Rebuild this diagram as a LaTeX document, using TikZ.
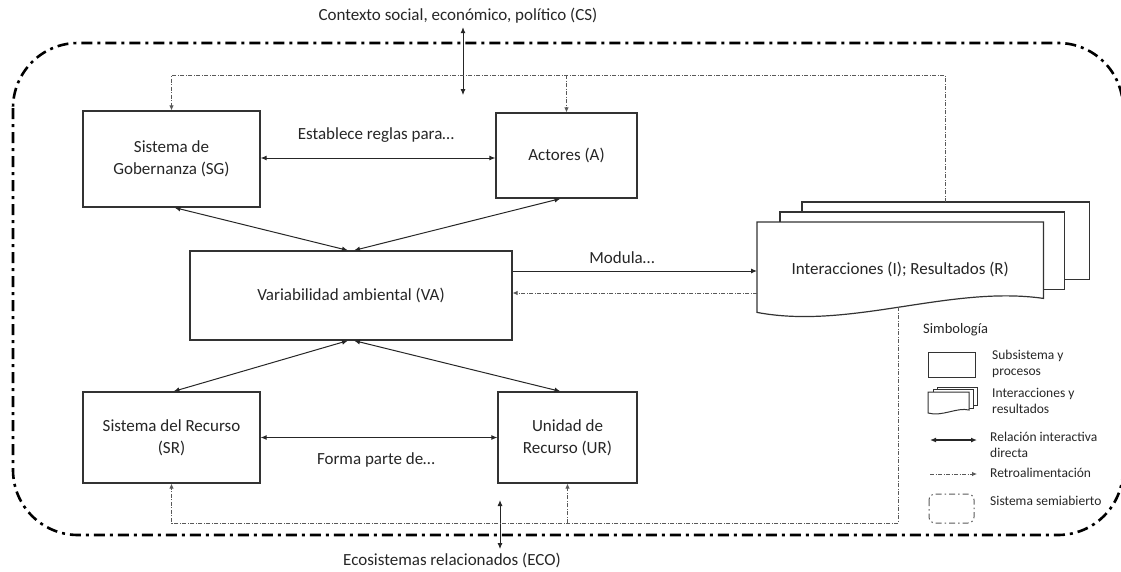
\documentclass[tikz,border=0pt]{standalone}
\usepackage{fontspec}
\setmainfont{Carlito}
\usetikzlibrary{arrows.meta,calc}
\begin{document}
\begin{tikzpicture}[x=1pt,y=-1pt,
  font=\fontsize{17}{22}\selectfont, text=black!85,
  box/.style={draw=black!80, line width=1.2pt, fill=white, align=center, inner sep=2pt},
  tip/.tip={Latex[length=6pt,width=5pt]},
  dbl/.style={tip-tip, line width=1pt, draw=black!85},
  arr/.style={-tip, line width=1pt, draw=black!85},
  fb/.style={draw=black!65, line width=0.9pt, dash pattern=on 4pt off 1.5pt on 1pt off 1.5pt},
  fbarr/.style={fb, -{Latex[length=5pt,width=4.5pt]}},
  outerframe/.style={draw=black, line width=2.6pt, dash pattern=on 11pt off 5pt on 3pt off 5pt},
  page/.style={draw=black!80, line width=1.2pt, fill=white},
  lg/.style={font=\fontsize{13.5}{16}\selectfont, align=left, anchor=west, inner sep=0pt}
]
\useasboundingbox (0,0) rectangle (1121,571);

% outer semi-open system frame
\draw[outerframe, rounded corners=65pt] (13,43) rectangle (1123,535);

% context labels
\node (CS) at (458,16) {Contexto social, económico, político (CS)};
\node (ECO) at (452,560) {Ecosistemas relacionados (ECO)};

% main subsystems
\node[box, minimum width=177pt, minimum height=96pt] (SG) at (171.5,159) {Sistema de\\Gobernanza (SG)};
\node[box, minimum width=141pt, minimum height=85pt] (A) at (566.5,155.5) {Actores (A)};
\node[box, minimum width=322pt, minimum height=89pt] (VA) at (351,295.5) {Variabilidad ambiental (VA)};
\node[box, minimum width=177pt, minimum height=91pt] (SR) at (171.5,437.5) {Sistema del Recurso\\(SR)};
\node[box, minimum width=139pt, minimum height=91pt] (UR) at (567.5,437.5) {Unidad de\\Recurso (UR)};

% interactions / results stack
\node[inner sep=0pt, minimum width=286pt, minimum height=76pt, anchor=north west] (IR) at (757,222) {};
\draw[page] ([shift={(45,-20)}]IR.north west) rectangle ([shift={(46,-19)}]IR.south east);
\draw[page] ([shift={(23,-10)}]IR.north west) rectangle ([shift={(21,-9)}]IR.south east);
\draw[page] (IR.north west) -- (IR.north east) -- (IR.south east)
  .. controls (950,285) and (850,330) .. ([yshift=-14pt]IR.south west) -- cycle;
\node (IRt) at ([yshift=-9pt]IR.center) {Interacciones (I); Resultados (R)};

% labels
\node (l1) at (376,135) {Establece reglas para…};
\node (l2) at (376,460) {Forma parte de…};
\node (l3) at (622,258) {Modula…};

% direct interactive relations
\draw[dbl] (SG.east |- 0,158) -- (A.west |- 0,158);
\draw[dbl] (SR.east) -- (UR.west);
\draw[dbl] ([xshift=3pt]SG.south) -- ([xshift=-3pt]VA.north);
\draw[dbl] ([xshift=-6pt]A.south) -- ([xshift=3pt]VA.north);
\draw[dbl] ([xshift=-3pt]VA.south) -- ([xshift=2pt]SR.north);
\draw[dbl] ([xshift=3pt]VA.south) -- ([xshift=-7pt]UR.north);
\draw[dbl] ([xshift=5pt]CS.south) -- ++(0,68);
\coordinate (eco1) at (500,500);
\draw[dbl] (eco1) -- (eco1 |- ECO.north);

% modulation
\coordinate (m1) at (0,271);
\draw[arr] (VA.east |- m1) -- (IR.west |- m1);

% feedback loops
\coordinate (m2) at (0,293);
\draw[fbarr] (IR.west |- m2) -- (VA.east |- m2);
\coordinate (bk) at (945,202);
\coordinate (ftop) at (0,75);
\draw[fbarr] (bk) -- (bk |- ftop) -- (SG.north |- ftop) -- (SG.north);
\draw[fbarr] (A.north |- ftop) -- (A.north);
\coordinate (fr) at (898,307);
\coordinate (fbot) at (0,523);
\draw[fbarr] (fr) -- (fr |- fbot) -- (SR.south |- fbot) -- (SR.south);
\draw[fbarr] (UR.south |- fbot) -- (UR.south);

% legend
\node[lg, font=\fontsize{14.5}{16}\selectfont] (sym) at (923,330) {Simbología};
\node[box, line width=1pt, minimum width=47pt, minimum height=25pt] (lg1) at (951.5,364.5) {};
\node[lg] (lt1) at (992,364) {Subsistema y\\procesos};
\draw[page, line width=1pt] (937,387) rectangle (977,405);
\draw[page, line width=1pt] (933,389.5) rectangle (973.5,408);
\draw[page, line width=1pt] (928,392) -- (969,392) -- (969,410) .. controls (957,407) and (942,417) .. (928,413) -- cycle;
\node[lg] (lt2) at (992,401) {Interacciones y\\resultados};
\node[lg] (lt3) at (990,445) {Relación interactiva\\directa};
\coordinate (la1) at (930,440);
\draw[dbl, line width=1.3pt] (la1) -- ++(47,0);
\node[lg] (lt4) at (990,473) {Retroalimentación};
\coordinate (la2) at (930,474);
\draw[fbarr] (la2) -- ++(47,0);
\draw[fb, line width=1pt, dash pattern=on 6pt off 3pt on 1.5pt off 3pt, rounded corners=6pt] (929,494) rectangle (974,523);
\node[lg] (lt5) at (990,501) {Sistema semiabierto};
\end{tikzpicture}
\end{document}
